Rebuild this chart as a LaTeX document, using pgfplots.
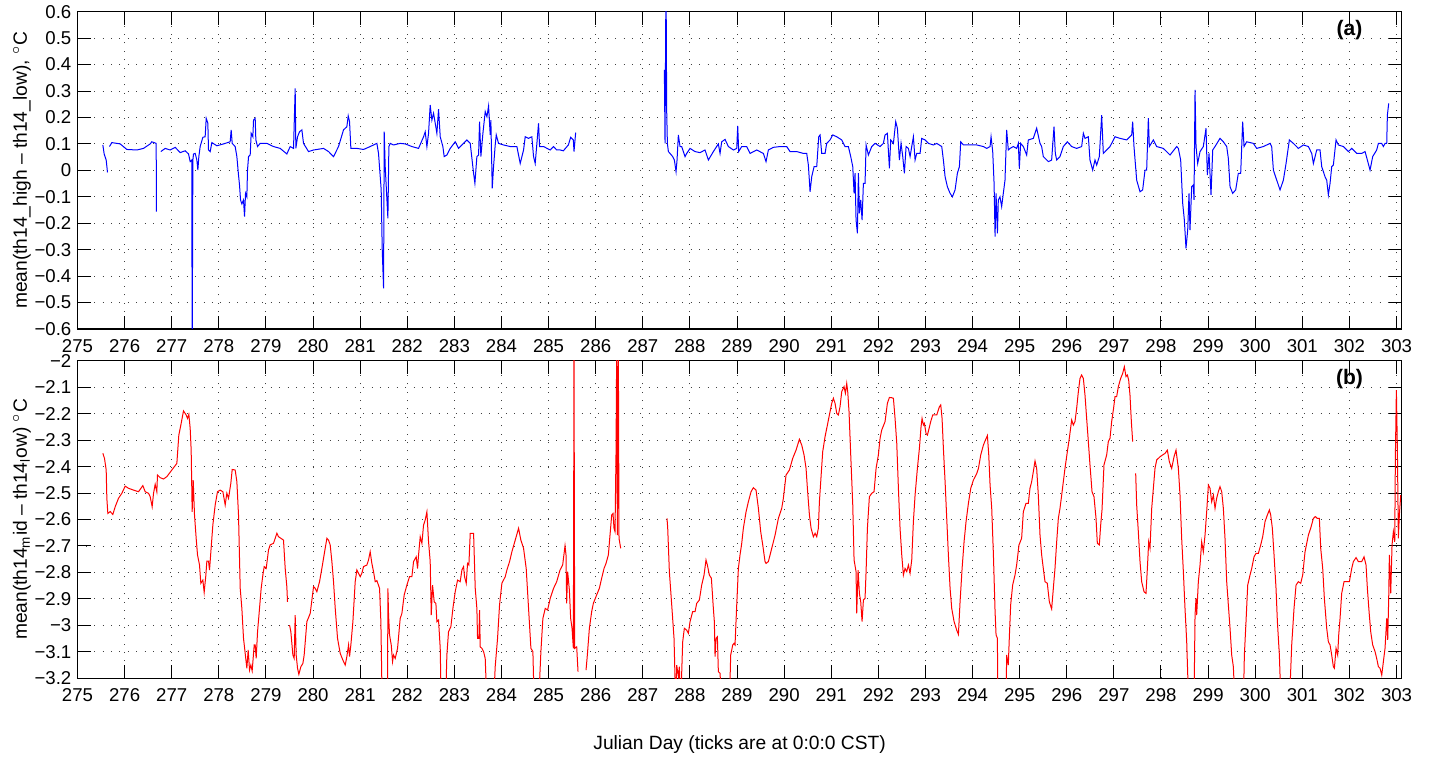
\documentclass[border=0pt]{standalone}
\usepackage{fontspec}
\setmainfont{Liberation Sans}
\usepackage{pgfplots}
\pgfplotsset{compat=1.18}
\pgfplotsset{
  mystyle/.style={
    scale only axis, width=662.1pt, height=158.65pt,
    xmin=275, xmax=303.11,
    xtick={275,...,303},
    tick align=inside, major tick length=6.5pt,
    tick style={line width=0.5pt, black},
    axis line style={line width=0.6pt},
    grid=major,
    grid style={dash pattern=on 0.5pt off 3.7pt, black!75, line width=0.45pt},
    tick label style={font=\fontsize{9.3}{11}\selectfont},
    label style={font=\fontsize{9.6}{11}\selectfont},
    /pgf/number format/assume math mode=true,
    xticklabel style={inner sep=0pt, anchor=north, yshift=-5pt},
    yticklabel style={inner sep=0pt, anchor=east, xshift=-2.9pt},
    unbounded coords=jump,
  }
}
\begin{document}
\begin{tikzpicture}
\useasboundingbox (0,0) rectangle (715.5pt,380pt);
% ---------------- (a) ----------------
\begin{axis}[mystyle, at={(38.75pt,215.5pt)}, anchor=south west,
  ymin=-0.6, ymax=0.6,
  ytick={-0.6,-0.5,-0.4,-0.3,-0.2,-0.1,0,0.1,0.2,0.3,0.4,0.5,0.6},
  yticklabels={−0.6,−0.5,−0.4,−0.3,−0.2,−0.1,0,0.1,0.2,0.3,0.4,0.5,0.6},
  ylabel={mean(th14\_high -- th14\_low), $^{\circ}$C},
  ylabel style={at={(axis description cs:-0.0419,0.5)}, anchor=center},
]
\addplot[blue, line width=0.5pt] table {
x y
275.538 0.096
275.566 0.062
275.609 0.039
275.637 -0.008
275.660 nan
275.679 0.090
275.729 0.105
275.906 0.100
276.047 0.079
276.260 0.077
276.401 0.083
276.543 0.100
276.578 0.108
276.670 0.102
276.677 -0.156
276.720 nan
276.769 0.071
276.861 0.083
276.967 0.077
277.074 0.087
277.180 0.067
277.286 0.074
277.357 0.062
277.392 0.033
277.427 0.039
277.434 -0.75
277.449 0.039
277.463 0.062
277.498 0.064
277.534 0.039
277.555 0.001
277.576 0.052
277.604 0.090
277.661 0.125
277.710 0.127
277.732 0.197
277.767 0.178
277.781 0.077
277.817 0.071
277.852 0.105
277.958 0.093
278.100 0.100
278.241 0.108
278.262 0.153
278.284 0.102
278.347 0.090
278.383 0.052
278.418 -0.018
278.439 -0.055
278.461 -0.112
278.489 -0.127
278.524 -0.112
278.546 -0.175
278.567 -0.087
278.595 -0.100
278.609 0.001
278.631 0.052
278.666 0.058
278.687 0.140
278.722 0.127
278.737 0.190
278.772 0.197
278.786 0.115
278.822 0.090
278.878 0.102
279.020 0.102
279.161 0.090
279.303 0.083
279.444 0.062
279.515 0.090
279.586 0.083
279.621 0.310
279.635 0.083
279.671 0.127
279.713 0.146
279.763 0.153
279.798 0.102
279.904 0.071
280.011 0.077
280.223 0.083
280.329 0.071
280.435 0.052
280.541 0.090
280.647 0.153
280.718 0.165
280.747 0.206
280.775 0.184
280.803 0.083
280.930 0.083
281.072 0.079
281.213 0.090
281.355 0.102
281.390 0.064
281.447 -0.074
281.468 -0.295
281.497 -0.446
281.511 0.146
281.532 0.014
281.589 -0.182
281.610 0.090
281.638 0.102
281.709 0.096
281.850 0.102
281.957 0.100
282.098 0.090
282.240 0.083
282.346 0.127
282.381 0.146
282.417 0.090
282.452 0.140
282.487 0.247
282.523 0.190
282.558 0.216
282.594 0.178
282.629 0.140
282.664 0.231
282.700 0.127
282.756 0.090
282.784 0.052
282.841 0.058
282.912 0.083
283.018 0.108
283.089 0.083
283.195 0.102
283.266 0.115
283.337 0.102
283.408 -0.011
283.436 -0.049
283.478 0.052
283.514 0.058
283.535 0.184
283.563 0.052
283.606 0.140
283.655 0.222
283.691 0.203
283.726 0.243
283.761 0.134
283.775 0.190
283.804 -0.068
283.832 0.014
283.867 0.096
283.889 0.134
283.938 0.102
284.044 0.096
284.186 0.090
284.327 0.090
284.398 0.026
284.469 0.077
284.504 0.127
284.575 0.121
284.645 0.127
284.681 0.052
284.716 0.026
284.752 0.102
284.787 0.178
284.809 0.090
284.893 0.090
285.035 0.077
285.106 0.090
285.172 0.077
285.247 0.077
285.314 0.074
285.420 0.096
285.469 0.125
285.526 0.115
285.540 0.071
285.575 0.143
286.500 nan
287.458 0.380
287.472 0.102
287.493 0.75
287.507 0.228
287.522 0.102
287.543 0.071
287.578 0.064
287.635 0.052
287.670 0.039
287.706 -0.005
287.727 0.039
287.755 0.134
287.790 0.090
287.826 0.090
287.897 0.052
287.932 0.064
288.003 0.083
288.109 0.071
288.215 0.067
288.321 0.077
288.392 0.039
288.498 0.071
288.604 0.100
288.640 0.064
288.675 0.108
288.746 0.117
288.817 0.090
288.923 0.077
288.994 0.083
289.015 0.168
289.036 0.071
289.100 0.090
289.206 0.090
289.277 0.064
289.418 0.077
289.560 0.064
289.616 0.033
289.666 0.077
289.772 0.087
289.914 0.090
290.055 0.090
290.126 0.071
290.267 0.071
290.409 0.064
290.480 0.064
290.515 0.020
290.551 -0.081
290.586 -0.024
290.636 0.014
290.692 0.014
290.735 0.127
290.763 0.134
290.798 0.064
290.869 0.064
290.904 0.102
290.975 0.115
291.032 0.134
291.117 0.127
291.223 0.115
291.294 0.090
291.364 0.090
291.414 0.052
291.457 0.014
291.485 -0.087
291.506 -0.011
291.527 -0.188
291.556 -0.238
291.577 -0.011
291.598 -0.163
291.626 -0.112
291.655 -0.188
291.683 -0.049
291.718 -0.049
291.740 0.096
291.789 0.058
291.860 0.090
291.931 0.102
292.037 0.090
292.107 0.102
292.143 0.134
292.192 0.140
292.235 0.008
292.263 0.115
292.320 0.102
292.369 0.184
292.405 0.159
292.447 0.039
292.482 0.102
292.518 0.052
292.553 -0.011
292.589 0.090
292.638 0.083
292.674 0.052
292.709 0.090
292.744 0.127
292.780 0.039
292.815 0.064
292.886 0.064
292.921 0.121
292.992 0.115
293.063 0.102
293.169 0.096
293.240 0.102
293.346 0.090
293.381 0.039
293.417 -0.024
293.466 -0.062
293.523 -0.087
293.572 -0.100
293.629 -0.074
293.678 -0.011
293.721 0.014
293.749 0.108
293.806 0.096
293.947 0.096
294.089 0.096
294.230 0.090
294.301 0.083
294.372 0.090
294.393 0.127
294.428 0.071
294.457 -0.049
294.478 -0.251
294.499 -0.087
294.528 -0.238
294.547 -0.112
294.582 -0.100
294.618 -0.137
294.653 -0.087
294.689 -0.037
294.724 0.153
294.759 0.077
294.795 0.083
294.866 0.090
294.936 0.083
294.972 0.102
294.993 0.008
295.021 0.102
295.078 0.090
295.149 0.058
295.184 0.115
295.290 0.121
295.361 0.159
295.432 0.102
295.467 0.090
295.502 0.052
295.609 0.033
295.679 0.039
295.729 0.165
295.757 0.064
295.786 0.039
295.856 0.052
295.927 0.090
296.012 0.108
296.104 0.090
296.210 0.083
296.316 0.090
296.352 0.140
296.387 0.121
296.458 0.127
296.493 0.039
296.550 0.001
296.599 0.039
296.635 0.020
296.691 0.052
296.741 0.209
296.776 0.064
296.847 0.077
296.918 0.090
297.024 0.127
297.130 0.121
297.272 0.115
297.378 0.134
297.399 0.184
297.427 0.090
297.484 -0.037
297.555 -0.081
297.611 -0.074
297.661 0.001
297.696 0.001
297.732 0.197
297.753 0.090
297.838 0.115
297.909 0.090
298.050 0.083
298.192 0.058
298.333 0.090
298.369 0.083
298.418 0.039
298.461 -0.125
298.496 -0.188
298.531 -0.295
298.567 -0.226
298.595 -0.087
298.616 -0.226
298.652 -0.062
298.687 -0.055
298.701 -0.112
298.723 0.304
298.744 0.090
298.779 0.026
298.829 0.071
298.899 0.090
298.956 0.159
298.984 -0.018
299.020 0.064
299.062 -0.093
299.098 0.077
299.147 0.090
299.253 0.121
299.324 0.108
299.395 0.090
299.430 0.045
299.466 -0.062
299.522 -0.087
299.586 -0.074
299.642 -0.011
299.692 -0.011
299.734 0.184
299.763 0.090
299.819 0.108
299.961 0.102
300.032 0.083
300.173 0.090
300.315 0.102
300.350 0.090
300.386 0.001
300.457 -0.037
300.527 -0.074
300.598 -0.037
300.655 0.026
300.725 0.115
300.810 0.102
300.916 0.083
301.023 0.096
301.129 0.090
301.200 0.064
301.235 0.026
301.306 0.077
301.376 0.077
301.412 0.014
301.482 -0.024
301.518 -0.037
301.553 -0.093
301.589 -0.049
301.624 0.014
301.659 0.020
301.716 0.115
301.766 0.096
301.872 0.090
301.978 0.071
302.049 0.083
302.155 0.064
302.261 0.064
302.332 0.071
302.381 0.039
302.438 0.001
302.494 0.052
302.579 0.077
302.615 0.102
302.685 0.102
302.721 0.090
302.756 0.102
302.792 0.102
302.806 0.209
302.834 0.253
};
\node[font=\fontsize{10.5}{12}\selectfont\bfseries] at (axis cs:302,0.53) {(a)};
\end{axis}
% ---------------- (b) ----------------
\begin{axis}[mystyle, at={(38.75pt,40.85pt)}, anchor=south west,
  height=158.8pt,
  ymin=-3.2, ymax=-2,
  ytick={-3.2,-3.1,-3,-2.9,-2.8,-2.7,-2.6,-2.5,-2.4,-2.3,-2.2,-2.1,-2},
  yticklabels={−3.2,−3.1,−3,−2.9,−2.8,−2.7,−2.6,−2.5,−2.4,−2.3,−2.2,−2.1,−2},
  ylabel={mean(th14\textsubscript{m}id -- th14\textsubscript{l}ow) $^{\circ}$C},
  ylabel style={at={(axis description cs:-0.0419,0.5)}, anchor=center},
  xlabel={Julian Day (ticks are at 0:0:0 CST)},
  xlabel style={at={(axis description cs:0.5,-0.21)}, anchor=center},
]
\addplot[red, line width=0.5pt] table {
x y
275.538 -2.350
275.573 -2.369
275.609 -2.413
275.623 -2.520
275.644 -2.577
275.694 -2.570
275.750 -2.581
275.800 -2.552
275.870 -2.520
275.941 -2.501
276.012 -2.474
276.083 -2.482
276.189 -2.489
276.295 -2.495
276.387 -2.472
276.437 -2.495
276.507 -2.501
276.543 -2.514
276.585 -2.552
276.614 -2.501
276.649 -2.467
276.684 -2.495
276.698 -2.432
276.755 -2.442
276.826 -2.447
276.897 -2.438
277.003 -2.413
277.109 -2.388
277.151 -2.281
277.194 -2.243
277.250 -2.190
277.307 -2.205
277.335 -2.218
277.364 -2.203
277.392 -2.256
277.413 -2.338
277.434 -2.571
277.456 -2.451
277.484 -2.583
277.519 -2.671
277.548 -2.734
277.590 -2.772
277.618 -2.841
277.661 -2.829
277.689 -2.875
277.725 -2.810
277.746 -2.757
277.781 -2.757
277.803 -2.791
277.831 -2.722
277.873 -2.621
277.923 -2.545
277.972 -2.495
278.029 -2.489
278.086 -2.495
278.135 -2.545
278.170 -2.501
278.206 -2.520
278.255 -2.463
278.284 -2.411
278.347 -2.413
278.383 -2.457
278.418 -2.583
278.454 -2.860
278.489 -2.936
278.524 -3.049
278.560 -3.106
278.595 -3.162
278.623 -3.093
278.652 -3.169
278.680 -3.150
278.708 -3.172
278.751 -3.074
278.772 -3.074
278.793 -3.125
278.822 -3.024
278.864 -2.936
278.899 -2.860
278.935 -2.810
278.963 -2.778
279.006 -2.785
279.055 -2.715
279.091 -2.696
279.161 -2.690
279.197 -2.671
279.232 -2.652
279.267 -2.665
279.317 -2.671
279.373 -2.678
279.409 -2.785
279.444 -2.854
279.458 -2.911
279.480 nan
279.501 -2.999
279.529 -3.024
279.572 -3.112
279.600 -3.125
279.621 -2.961
279.642 -3.112
279.671 -3.162
279.699 -3.185
279.742 -3.156
279.784 -3.144
279.812 -3.112
279.869 -2.986
279.940 -2.955
280.011 -2.854
280.046 -2.860
280.081 -2.873
280.138 -2.835
280.187 -2.785
280.258 -2.709
280.294 -2.671
280.329 -2.678
280.364 -2.696
280.400 -2.759
280.435 -2.835
280.471 -2.936
280.520 -3.049
280.577 -3.106
280.633 -3.131
280.683 -3.150
280.718 -3.118
280.754 -3.074
280.775 -3.118
280.803 -3.074
280.846 -2.986
280.895 -2.835
280.930 -2.791
281.001 -2.816
281.037 -2.803
281.072 -2.778
281.143 -2.772
281.178 -2.753
281.213 -2.722
281.249 -2.766
281.284 -2.797
281.320 -2.835
281.355 -2.831
281.412 -2.860
281.440 -2.986
281.468 -3.30
281.532 -3.30
281.582 -3.25
281.589 -2.860
281.603 -2.961
281.624 -3.036
281.660 -3.074
281.688 -3.137
281.709 -3.112
281.744 -3.125
281.794 -3.087
281.850 -2.974
281.886 -2.955
281.935 -2.885
281.992 -2.848
282.048 -2.816
282.098 -2.816
282.134 -2.759
282.190 -2.741
282.219 -2.785
282.240 -2.734
282.275 -2.665
282.311 -2.690
282.346 -2.621
282.381 -2.602
282.417 -2.571
282.452 -2.684
282.487 -2.759
282.509 -2.961
282.537 -2.848
282.572 -2.911
282.608 -2.917
282.629 -2.986
282.664 -2.980
282.700 -3.087
282.721 -3.30
282.813 -3.30
282.841 -3.112
282.876 -3.024
282.926 -3.005
282.969 -2.936
283.018 -2.873
283.068 -2.829
283.124 -2.835
283.160 -2.791
283.195 -2.778
283.216 -2.816
283.252 -2.841
283.280 -2.766
283.308 -2.772
283.337 -2.652
283.408 -2.652
283.443 -2.860
283.478 -2.936
283.492 -3.049
283.521 -3.049
283.535 -2.942
283.549 -3.081
283.584 -3.087
283.620 -3.099
283.655 -3.125
283.691 -3.30
283.832 -3.30
283.867 -3.156
283.917 -3.049
283.959 -2.923
284.009 -2.841
284.080 -2.816
284.115 -2.791
284.172 -2.759
284.221 -2.722
284.292 -2.678
284.363 -2.633
284.412 -2.678
284.469 -2.709
284.525 -2.785
284.575 -2.936
284.625 -3.087
284.667 -3.099
284.695 -3.30
284.787 -3.30
284.837 -3.099
284.879 -2.974
284.929 -2.936
284.979 -2.942
285.035 -2.898
285.106 -2.860
285.172 -2.835
285.243 -2.791
285.299 -2.772
285.349 -2.699
285.370 -2.734
285.384 -2.917
285.405 -2.797
285.441 -2.866
285.469 -2.974
285.498 -3.011
285.526 -3.087
285.540 -1.95
285.554 -3.087
285.597 -3.081
285.625 -3.175
285.710 nan
285.795 -3.169
285.823 -3.112
285.866 -3.011
285.915 -2.948
285.950 -2.917
286.021 -2.885
286.078 -2.860
286.127 -2.822
286.177 -2.785
286.219 -2.766
286.269 -2.734
286.304 -2.659
286.340 -2.583
286.368 -2.577
286.389 -2.633
286.410 -2.646
286.432 -2.344
286.446 -1.95
286.460 -2.659
286.481 -1.95
286.495 -2.671
286.531 -2.709
287.000 nan
287.514 -2.596
287.529 -2.633
287.564 -2.797
287.614 -2.923
287.663 -3.049
287.698 -3.30
287.720 -3.150
287.755 -3.194
287.776 -3.156
287.804 -3.30
287.847 -3.062
287.882 -3.011
287.932 -3.018
287.967 -3.030
288.003 -2.986
288.059 -2.948
288.109 -2.948
288.144 -2.917
288.201 -2.904
288.250 -2.848
288.300 -2.810
288.342 -2.753
288.371 -2.772
288.413 -2.810
288.456 -2.822
288.498 -2.936
288.519 -2.986
288.534 -3.118
288.555 -3.049
288.583 -3.043
288.604 -3.175
288.640 -3.181
288.675 -3.30
288.838 -3.30
288.866 -3.112
288.909 -3.074
288.937 -3.068
288.958 -3.074
288.994 -2.923
289.029 -2.785
289.064 -2.734
289.100 -2.690
289.135 -2.633
289.192 -2.571
289.241 -2.533
289.298 -2.495
289.347 -2.480
289.404 -2.489
289.454 -2.558
289.503 -2.646
289.546 -2.696
289.595 -2.759
289.616 -2.766
289.666 -2.759
289.737 -2.709
289.808 -2.659
289.878 -2.596
289.949 -2.558
289.984 -2.520
290.041 -2.432
290.112 -2.413
290.182 -2.369
290.253 -2.338
290.324 -2.297
290.374 -2.319
290.423 -2.356
290.466 -2.407
290.494 -2.482
290.537 -2.583
290.572 -2.633
290.621 -2.665
290.657 -2.652
290.692 -2.665
290.727 -2.633
290.749 -2.533
290.777 -2.457
290.819 -2.344
290.869 -2.287
290.919 -2.243
290.961 -2.205
291.011 -2.161
291.046 -2.142
291.081 -2.161
291.117 -2.199
291.152 -2.205
291.187 -2.174
291.223 -2.117
291.272 -2.098
291.301 -2.123
291.329 -2.086
291.350 -2.117
291.378 -2.193
291.414 -2.356
291.457 -2.545
291.485 -2.753
291.527 -2.797
291.541 -2.955
291.570 -2.791
291.598 -2.879
291.626 -2.911
291.655 -2.986
291.683 -2.904
291.718 -2.898
291.740 -2.797
291.768 -2.633
291.810 -2.514
291.860 -2.501
291.909 -2.495
291.952 -2.407
292.001 -2.356
292.037 -2.293
292.072 -2.262
292.143 -2.230
292.192 -2.161
292.235 -2.139
292.284 -2.140
292.320 -2.142
292.355 -2.218
292.391 -2.312
292.426 -2.482
292.461 -2.633
292.497 -2.734
292.532 -2.810
292.567 -2.785
292.603 -2.797
292.638 -2.772
292.674 -2.803
292.709 -2.753
292.744 -2.608
292.780 -2.508
292.829 -2.407
292.872 -2.331
292.907 -2.249
292.928 -2.218
292.957 -2.243
292.978 -2.237
293.013 -2.275
293.042 -2.281
293.077 -2.256
293.112 -2.230
293.155 -2.205
293.240 -2.205
293.296 -2.174
293.325 -2.167
293.353 -2.218
293.381 -2.331
293.417 -2.457
293.452 -2.596
293.487 -2.734
293.523 -2.860
293.558 -2.936
293.608 -2.986
293.664 -3.018
293.700 -3.034
293.735 -2.911
293.778 -2.785
293.820 -2.684
293.862 -2.608
293.912 -2.539
293.962 -2.482
294.018 -2.451
294.089 -2.426
294.125 -2.407
294.174 -2.356
294.230 -2.319
294.273 -2.300
294.315 -2.283
294.344 -2.356
294.372 -2.470
294.407 -2.558
294.443 -2.734
294.478 -2.948
294.499 -3.036
294.528 -3.049
294.535 -3.30
294.710 -3.30
294.724 -3.112
294.759 -3.150
294.780 -3.049
294.809 -2.923
294.851 -2.848
294.901 -2.810
294.936 -2.772
294.986 -2.696
295.042 -2.671
295.078 -2.571
295.134 -2.539
295.184 -2.539
295.219 -2.482
295.255 -2.457
295.290 -2.419
295.326 -2.379
295.361 -2.407
295.396 -2.508
295.432 -2.659
295.467 -2.734
295.502 -2.785
295.538 -2.835
295.587 -2.841
295.630 -2.911
295.679 -2.938
295.715 -2.860
295.750 -2.785
295.786 -2.684
295.821 -2.596
295.856 -2.558
295.892 -2.508
295.927 -2.457
295.962 -2.407
296.012 -2.344
296.054 -2.293
296.104 -2.224
296.139 -2.243
296.175 -2.230
296.210 -2.180
296.246 -2.117
296.281 -2.067
296.316 -2.054
296.352 -2.067
296.387 -2.130
296.422 -2.218
296.458 -2.306
296.493 -2.394
296.536 -2.495
296.578 -2.514
296.621 -2.596
296.649 -2.690
296.691 -2.696
296.720 -2.621
296.748 -2.564
296.762 -2.508
296.790 -2.394
296.847 -2.356
296.882 -2.306
296.918 -2.293
296.953 -2.230
296.989 -2.186
297.024 -2.136
297.059 -2.136
297.095 -2.098
297.144 -2.067
297.187 -2.048
297.222 -2.023
297.257 -2.060
297.286 -2.054
297.314 -2.073
297.342 -2.130
297.371 -2.230
297.399 -2.306
297.430 nan
297.463 -2.426
297.484 -2.545
297.519 -2.646
297.555 -2.759
297.590 -2.835
297.640 -2.873
297.682 -2.879
297.711 -2.785
297.739 -2.684
297.767 -2.709
297.803 -2.558
297.838 -2.482
297.873 -2.407
297.909 -2.375
297.979 -2.363
298.036 -2.356
298.086 -2.350
298.135 -2.338
298.178 -2.382
298.227 -2.407
298.277 -2.363
298.319 -2.338
298.369 -2.407
298.404 -2.508
298.439 -2.671
298.475 -2.797
298.510 -2.936
298.546 -3.062
298.588 -3.30
298.701 -3.30
298.723 -2.961
298.744 -2.898
298.758 -2.961
298.793 -2.835
298.829 -2.772
298.864 -2.684
298.899 -2.722
298.935 -2.659
298.970 -2.571
299.006 -2.470
299.041 -2.482
299.076 -2.533
299.112 -2.508
299.147 -2.558
299.182 -2.520
299.218 -2.495
299.253 -2.476
299.289 -2.495
299.324 -2.558
299.359 -2.671
299.395 -2.835
299.430 -2.923
299.466 -3.011
299.501 -3.112
299.536 -3.156
299.572 -3.30
299.749 -3.30
299.770 -3.112
299.805 -2.986
299.841 -2.848
299.890 -2.810
299.926 -2.785
299.975 -2.741
300.018 -2.728
300.067 -2.728
300.117 -2.696
300.159 -2.665
300.209 -2.608
300.258 -2.583
300.301 -2.564
300.329 -2.583
300.364 -2.633
300.400 -2.734
300.442 -2.860
300.471 -2.986
300.513 -3.112
300.548 -3.30
300.725 -3.30
300.775 -3.074
300.824 -2.936
300.867 -2.848
300.916 -2.835
300.966 -2.841
301.008 -2.810
301.058 -2.722
301.129 -2.659
301.178 -2.633
301.235 -2.596
301.277 -2.589
301.320 -2.596
301.362 -2.596
301.391 -2.709
301.433 -2.785
301.468 -2.898
301.518 -3.011
301.553 -3.062
301.589 -3.074
301.624 -3.112
301.659 -3.156
301.681 -3.162
301.716 -3.087
301.751 -3.112
301.773 -3.036
301.801 -2.974
301.836 -2.879
301.886 -2.835
301.943 -2.835
301.999 -2.835
302.049 -2.785
302.084 -2.759
302.141 -2.744
302.190 -2.759
302.261 -2.759
302.310 -2.741
302.353 -2.772
302.381 -2.860
302.417 -2.948
302.452 -3.024
302.494 -3.074
302.544 -3.099
302.579 -3.125
302.615 -3.156
302.650 -3.162
302.686 -3.188
302.721 -3.137
302.756 -3.087
302.792 -2.974
302.813 -3.055
302.834 -2.898
302.848 -2.734
302.877 -2.879
302.905 -2.696
302.933 -2.646
302.962 -2.684
302.976 -2.356
302.997 -2.111
303.018 -2.331
303.039 -2.671
303.060 -2.583
303.089 -2.508
};
\node[font=\fontsize{10.5}{12}\selectfont\bfseries] at (axis cs:302,-2.07) {(b)};
\end{axis}
\end{tikzpicture}
\end{document}
